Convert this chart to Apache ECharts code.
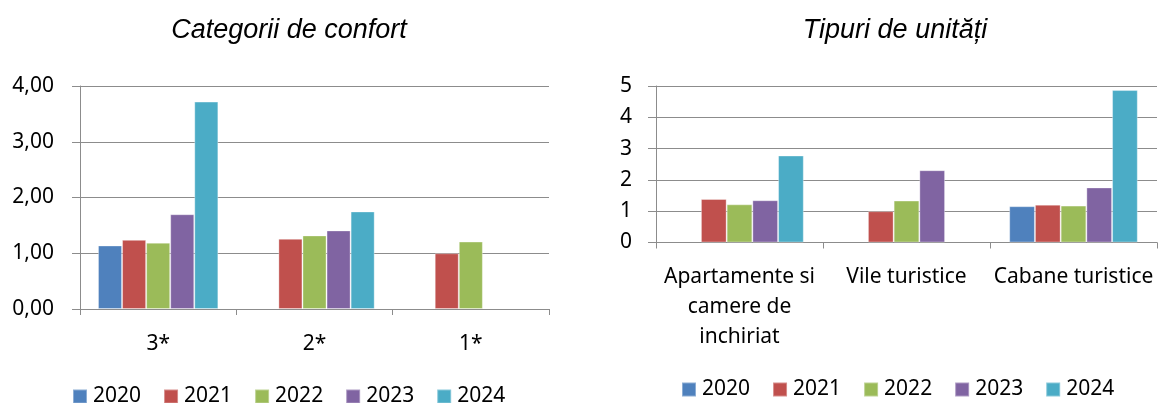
<!DOCTYPE html>
<html>
<head>
<meta charset="utf-8">
<title>Categorii de confort / Tipuri de unități</title>
<script src="https://cdn.jsdelivr.net/npm/echarts@6/dist/echarts.min.js"></script>
<style>
  html, body { margin: 0; padding: 0; background: #fff; }
  #chart { width: 1158px; height: 403px; }
</style>
</head>
<body>
<div id="chart"></div>
<script>
// years shown in both legends
const years = ['2020', '2021', '2022', '2023', '2024'];

// left chart: comfort categories
const confortCategories = ['3*', '2*', '1*'];
const confort2020 = [1.14, null, null];
const confort2021 = [1.24, 1.26, 1.00];
const confort2022 = [1.19, 1.32, 1.21];
const confort2023 = [1.70, 1.41, null];
const confort2024 = [3.72, 1.75, null];
const confortTicks = [0, 1, 2, 3, 4];

// right chart: unit types
const unitCategories = ['Apartamente si\ncamere de\ninchiriat', 'Vile turistice', 'Cabane turistice'];
const unit2020 = [null, null, 1.16];
const unit2021 = [1.39, 1.00, 1.21];
const unit2022 = [1.22, 1.34, 1.18];
const unit2023 = [1.35, 2.31, 1.76];
const unit2024 = [2.78, null, 4.87];
const unitTicks = [0, 1, 2, 3, 4, 5];

const colors = ['#4F81BD', '#C0504D', '#9BBB59', '#8064A2', '#4BACC6'];
const labelFont = '"Noto Sans", "Open Sans", sans-serif';
const lineGray = '#8c8c8c';

const confortData = [confort2020, confort2021, confort2022, confort2023, confort2024];
const unitData = [unit2020, unit2021, unit2022, unit2023, unit2024];

function valueAxis(gridIndex, ticks, margin, formatter) {
  return {
    type: 'value',
    gridIndex: gridIndex,
    min: ticks[0],
    max: ticks[ticks.length - 1],
    interval: ticks[1] - ticks[0],
    axisLine: { show: true, lineStyle: { color: lineGray, width: 1 } },
    axisTick: { show: true, length: 8, lineStyle: { color: lineGray } },
    splitLine: { show: true, lineStyle: { color: lineGray, width: 1 } },
    axisLabel: {
      color: '#000',
      fontFamily: labelFont,
      fontSize: 21,
      margin: margin,
      formatter: formatter,
    },
  };
}

function categoryAxis(gridIndex, data, margin) {
  return {
    type: 'category',
    gridIndex: gridIndex,
    data: data,
    axisLine: { show: true, lineStyle: { color: lineGray, width: 1 } },
    axisTick: { show: true, length: 6, alignWithLabel: false, lineStyle: { color: lineGray } },
    splitLine: { show: false },
    axisLabel: {
      interval: 0,
      color: '#000',
      fontFamily: labelFont,
      fontSize: 21,
      lineHeight: 30,
      margin: margin,
    },
  };
}

function barSeries(data, axisIndex) {
  return data.map((values, i) => ({
    name: years[i],
    type: 'bar',
    xAxisIndex: axisIndex,
    yAxisIndex: axisIndex,
    data: values,
    barGap: '0%',
    barCategoryGap: '23%',
    itemStyle: {
      color: colors[i],
      borderColor: 'rgba(255,255,255,0.35)',
      borderWidth: 1,
    },
  }));
}

function legend(left, top) {
  return {
    data: years,
    left: left,
    top: top,
    icon: 'rect',
    itemWidth: 14,
    itemHeight: 14,
    itemGap: 22,
    textStyle: { color: '#000', fontFamily: labelFont, fontSize: 21, padding: [0, 0, 0, 1] },
  };
}

const chart = echarts.init(document.getElementById('chart'), null, { renderer: 'canvas' });

chart.setOption({
  animation: false,
  backgroundColor: '#fff',
  color: colors,
  title: [
    {
      text: 'Categorii de confort',
      left: 284,
      top: 12,
      textAlign: 'center',
      textStyle: {
        fontFamily: '"Liberation Sans", Arial, sans-serif',
        fontStyle: 'italic',
        fontWeight: 'normal',
        fontSize: 27,
        color: '#000',
      },
    },
    {
      text: 'Tipuri de unități',
      left: 890,
      top: 12,
      textAlign: 'center',
      textStyle: {
        fontFamily: '"Liberation Sans", Arial, sans-serif',
        fontStyle: 'italic',
        fontWeight: 'normal',
        fontSize: 27,
        color: '#000',
      },
    },
  ],
  legend: [legend(67, 381), legend(676, 374)],
  grid: [
    { left: 80, top: 86, width: 469, height: 223, containLabel: false },
    { left: 656, top: 86, width: 501, height: 156.5, containLabel: false },
  ],
  xAxis: [
    categoryAxis(0, confortCategories, 20),
    categoryAxis(1, unitCategories, 20),
  ],
  yAxis: [
    valueAxis(0, confortTicks, 26, (v) => v.toFixed(2).replace('.', ',')),
    valueAxis(1, unitTicks, 24, (v) => String(v)),
  ],
  series: barSeries(confortData, 0).concat(barSeries(unitData, 1)),
});
</script>
</body>
</html>
